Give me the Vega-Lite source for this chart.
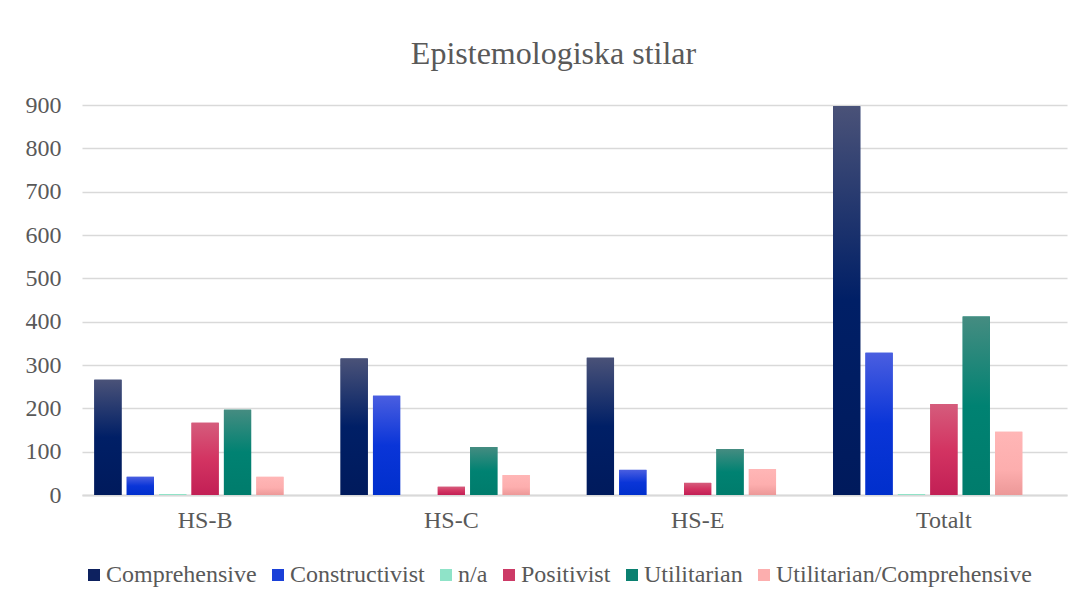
{
  "$schema": "https://vega.github.io/schema/vega-lite/v6.json",
  "width": 985,
  "height": 390,
  "autosize": {"type": "none"},
  "padding": {"left": 82, "top": 105, "right": 18, "bottom": 109},
  "background": "white",
  "config": {"view": {"stroke": null}, "font": "Liberation Serif"},
  "title": {
    "text": "Epistemologiska stilar",
    "font": "Liberation Serif",
    "fontSize": 32,
    "fontWeight": "normal",
    "color": "#595959",
    "anchor": "middle",
    "frame": "group",
    "dx": -21,
    "offset": 22
  },
  "data": {
    "values": [
      {"group": "HS-B", "series": "Comprehensive", "value": 266},
      {"group": "HS-B", "series": "Constructivist", "value": 42},
      {"group": "HS-B", "series": "n/a", "value": 2},
      {"group": "HS-B", "series": "Positivist", "value": 167},
      {"group": "HS-B", "series": "Utilitarian", "value": 197},
      {"group": "HS-B", "series": "Utilitarian/Comprehensive", "value": 42},
      {"group": "HS-C", "series": "Comprehensive", "value": 315},
      {"group": "HS-C", "series": "Constructivist", "value": 229},
      {"group": "HS-C", "series": "n/a", "value": 0},
      {"group": "HS-C", "series": "Positivist", "value": 19},
      {"group": "HS-C", "series": "Utilitarian", "value": 111},
      {"group": "HS-C", "series": "Utilitarian/Comprehensive", "value": 46},
      {"group": "HS-E", "series": "Comprehensive", "value": 317},
      {"group": "HS-E", "series": "Constructivist", "value": 58},
      {"group": "HS-E", "series": "n/a", "value": 0},
      {"group": "HS-E", "series": "Positivist", "value": 28},
      {"group": "HS-E", "series": "Utilitarian", "value": 106},
      {"group": "HS-E", "series": "Utilitarian/Comprehensive", "value": 60},
      {"group": "Totalt", "series": "Comprehensive", "value": 897},
      {"group": "Totalt", "series": "Constructivist", "value": 328},
      {"group": "Totalt", "series": "n/a", "value": 2},
      {"group": "Totalt", "series": "Positivist", "value": 210},
      {"group": "Totalt", "series": "Utilitarian", "value": 412},
      {"group": "Totalt", "series": "Utilitarian/Comprehensive", "value": 146}
    ]
  },
  "encoding": {
    "x": {
      "field": "group",
      "type": "nominal",
      "sort": ["HS-B", "HS-C", "HS-E", "Totalt"],
      "scale": {"paddingInner": 0, "paddingOuter": 0},
      "axis": {
        "title": null,
        "labelAngle": 0,
        "labelFont": "Liberation Serif",
        "labelFontSize": 24,
        "labelColor": "#595959",
        "labelPadding": 13,
        "ticks": false,
        "domain": true,
        "domainColor": "#d9d9d9",
        "domainWidth": 2,
        "grid": false
      }
    },
    "xOffset": {
      "field": "series",
      "type": "nominal",
      "scale": {
        "domain": ["Comprehensive", "Constructivist", "n/a", "Positivist", "Utilitarian", "Utilitarian/Comprehensive", "(tom)"],
        "paddingInner": 0.16,
        "paddingOuter": 0.38
      }
    },
    "y": {
      "field": "value",
      "type": "quantitative",
      "scale": {"domain": [0, 900], "nice": false},
      "axis": {
        "title": null,
        "values": [0, 100, 200, 300, 400, 500, 600, 700, 800, 900],
        "labelFont": "Liberation Serif",
        "labelFontSize": 24,
        "labelColor": "#595959",
        "labelPadding": 21,
        "ticks": false,
        "domain": false,
        "grid": true,
        "gridColor": "#d9d9d9",
        "gridWidth": 1.5
      }
    }
  },
  "layer": [
    {
      "mark": {"type": "bar"},
      "encoding": {
        "color": {
          "field": "series",
          "type": "nominal",
          "scale": {
            "domain": ["Comprehensive", "Constructivist", "n/a", "Positivist", "Utilitarian", "Utilitarian/Comprehensive"],
            "range": ["#0d215f", "#1a40d8", "#8fe3c8", "#cc3a66", "#0a8070", "#fcaeae"]
          },
          "legend": {
            "title": null,
            "orient": "bottom",
            "direction": "horizontal",
            "symbolType": "square",
            "symbolSize": 144,
            "symbolStrokeWidth": 0,
            "labelFont": "Liberation Serif",
            "labelFontSize": 24,
            "labelColor": "#595959",
            "labelLimit": 0,
            "labelOffset": 0,
            "columnPadding": 9,
            "offset": 31
          }
        }
      }
    },
    {
      "mark": {"type": "bar"},
      "encoding": {
        "fill": {
          "condition": [
            {"test": "datum.series === 'Comprehensive'", "value": {"gradient": "linear", "x1": 0, "y1": 0, "x2": 0, "y2": 1, "stops": [{"offset": 0, "color": "#4a5278"}, {"offset": 0.5, "color": "#001f66"}, {"offset": 1, "color": "#001a5c"}]}},
            {"test": "datum.series === 'Constructivist'", "value": {"gradient": "linear", "x1": 0, "y1": 0, "x2": 0, "y2": 1, "stops": [{"offset": 0, "color": "#4a5ee0"}, {"offset": 0.5, "color": "#0a35d8"}, {"offset": 1, "color": "#002fcc"}]}},
            {"test": "datum.series === 'n/a'", "value": "#8fe3c8"},
            {"test": "datum.series === 'Positivist'", "value": {"gradient": "linear", "x1": 0, "y1": 0, "x2": 0, "y2": 1, "stops": [{"offset": 0, "color": "#d55c7c"}, {"offset": 0.5, "color": "#d33462"}, {"offset": 1, "color": "#c21f55"}]}},
            {"test": "datum.series === 'Utilitarian'", "value": {"gradient": "linear", "x1": 0, "y1": 0, "x2": 0, "y2": 1, "stops": [{"offset": 0, "color": "#458c81"}, {"offset": 0.5, "color": "#008272"}, {"offset": 1, "color": "#007c6c"}]}}
          ],
          "value": {"gradient": "linear", "x1": 0, "y1": 0, "x2": 0, "y2": 1, "stops": [{"offset": 0, "color": "#ffb6b6"}, {"offset": 0.6, "color": "#fdaeae"}, {"offset": 1, "color": "#ec9898"}]}
        }
      }
    }
  ]
}
